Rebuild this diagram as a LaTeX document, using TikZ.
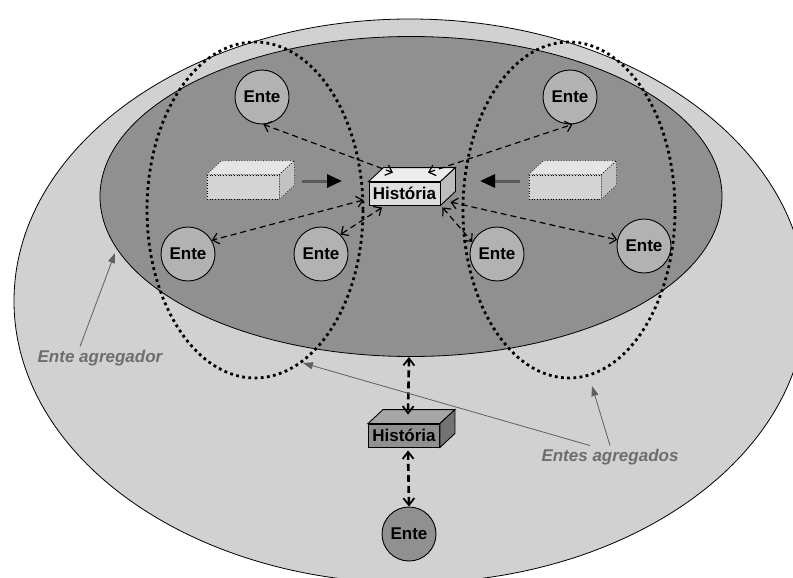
\documentclass[tikz,border=0pt]{standalone}
\usepackage{fontspec}
\setmainfont{Liberation Sans}
\usetikzlibrary{arrows.meta}

\definecolor{cinzaext}{gray}{0.82}
\definecolor{cinzaint}{gray}{0.565}
\definecolor{cinzaente}{gray}{0.70}
\definecolor{cinzarotulo}{gray}{0.43}
\definecolor{histfrente}{gray}{0.87}
\definecolor{histtopo}{gray}{0.93}
\definecolor{histlado}{gray}{0.74}
\definecolor{vaziafrente}{gray}{0.83}
\definecolor{vaziatopo}{gray}{0.90}
\definecolor{vazialado}{gray}{0.76}
\definecolor{histbtopo}{gray}{0.65}
\definecolor{histblado}{gray}{0.45}

% caixa 3D: nome, posicao, texto, estilo, cor do topo, cor do lado
\newcommand{\caixa}[6]{%
  \node[#4] (#1) at #2 {#3};
  \filldraw[#4, fill=#5] (#1.north west) -- ++(15,-14) -- ([shift={(15,-14)}]#1.north east) -- (#1.north east) -- cycle;
  \filldraw[#4, fill=#6] (#1.north east) -- ++(15,-14) -- ([shift={(15,-14)}]#1.south east) -- (#1.south east) -- cycle;
}

\begin{document}
\begin{tikzpicture}[
x=1pt, y=-1pt,
ente/.style={circle, draw, line width=0.9pt, fill=cinzaente, minimum size=54pt, inner sep=0pt, font=\bfseries\fontsize{17}{20}\selectfont},
hist/.style={draw, line width=0.9pt, fill=histfrente, minimum width=71pt, minimum height=23pt, inner sep=0pt, text height=12pt, text depth=0pt, font=\bfseries\fontsize{17}{20}\selectfont},
histb/.style={hist, fill=cinzaint},
vazia/.style={draw, dotted, line width=0.7pt, fill=vaziafrente, minimum width=72pt, minimum height=24pt, inner sep=0pt},
grupo/.style={draw, line width=2.8pt, dash pattern=on 2.8pt off 3.4pt},
liga/.style={<->, >={Straight Barb[length=6pt, width=11pt]}, line width=1.2pt, dash pattern=on 6pt off 4pt},
ligab/.style={<->, >={Straight Barb[length=7pt, width=11pt, line width=1.8pt]}, line width=2.6pt, dash pattern=on 7pt off 4pt},
seta/.style={-{Triangle[length=15pt, width=13pt, black]}, draw=black!65, line width=3pt},
rotulo/.style={text=cinzarotulo, font=\bfseries\itshape\fontsize{17}{20}\selectfont},
aponta/.style={-{Triangle[length=10pt, width=7pt]}, draw=cinzarotulo!110, line width=0.8pt}
]
\clip (0,0) rectangle (793,578);

% ente agregador
\filldraw[fill=cinzaext, line width=0.8pt] (410,301) ellipse [x radius=396, y radius=282];
\filldraw[fill=cinzaint, line width=0.8pt] (411,196.5) ellipse [x radius=311, y radius=160];
\coordinate (fundo) at (409,357);
\coordinate (borda) at (115,253);

% entes agregados
\draw[grupo] (255,210) ellipse [x radius=108, y radius=168];
\draw[grupo] (569,210) ellipse [x radius=106, y radius=168];
\coordinate (grupoE) at (303,363);
\coordinate (grupoD) at (592,386);

\node[ente] (enteA) at (262,97) {Ente};
\node[ente] (enteB) at (570,97) {Ente};
\node[ente] (enteC) at (188,254) {Ente};
\node[ente] (enteD) at (321,254) {Ente};
\node[ente] (enteE) at (497,254) {Ente};
\node[ente] (enteF) at (644,246) {Ente};
\node[ente, fill=cinzaint] (enteG) at (409,534) {Ente};

\caixa{caixaE}{(243,187)}{}{vazia}{vaziatopo}{vazialado}
\caixa{caixaD}{(565,187)}{}{vazia}{vaziatopo}{vazialado}
\caixa{hist}{(404.5,193.5)}{História}{hist}{histtopo}{histlado}
\caixa{histb}{(404,435.5)}{História}{histb}{histbtopo}{histblado}

\coordinate (alvoE) at (342,181);
\coordinate (alvoD) at (480,181);
\draw[seta] ([shift={(23,-6)}]caixaE.east) -- (alvoE);
\draw[seta] ([shift={(-9,-6)}]caixaD.west) -- (alvoD);

\draw[liga] ([shift={(-11.5,-9)}]hist.north) -- (enteA.-87);
\draw[liga] ([shift={(23.5,-9)}]hist.north) -- (enteB.-85);
\draw[liga] ([shift={(-5,6.5)}]hist.west) -- (enteC.30);
\draw[liga] ([shift={(-22.5,2)}]hist.south) -- (enteD.45);
\draw[liga] ([shift={(2,2)}]hist.south east) -- (enteE.154);
\draw[liga] ([shift={(10,8.5)}]hist.east) -- (enteF.167);

\draw[ligab] (fundo) -- ([shift={(4,-9)}]histb.north);
\draw[ligab] ([shift={(4,3)}]histb.south) -- (enteG.north);

\node[rotulo] (agregador) at (100,358) {Ente agregador};
\node[rotulo] (agregados) at (610,457) {Entes agregados};
\draw[aponta] ([xshift=-20pt]agregador.north) -- (borda);
\draw[aponta] ([xshift=-20pt]agregados.north) -- (grupoE);
\draw[aponta] (agregados.north) -- (grupoD);

\end{tikzpicture}
\end{document}
